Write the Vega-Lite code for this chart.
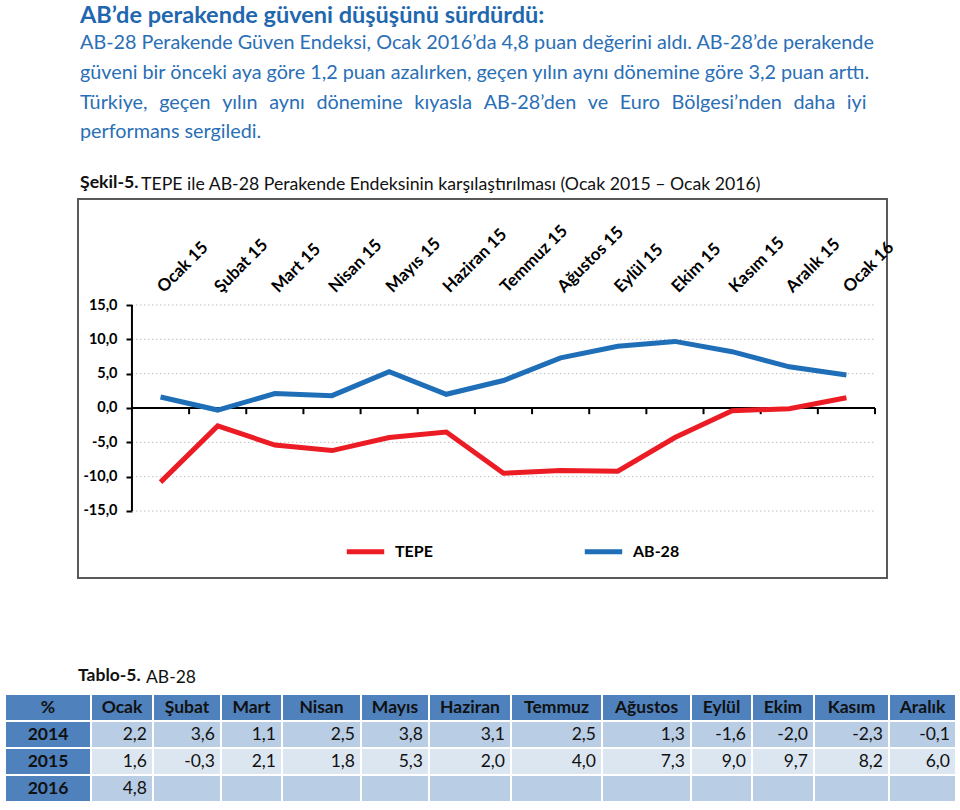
{
  "$schema": "https://vega.github.io/schema/vega-lite/v6.json",
  "background": "white",
  "padding": {"left": 4, "top": 4, "right": 0, "bottom": 0},
  "config": {
    "font": "Lato",
    "view": {"stroke": null},
    "locale": {"number": {"decimal": ",", "thousands": ".", "grouping": [3], "currency": ["", ""], "minus": "-"}},
    "text": {"fontSize": 17.5, "color": "#111111", "font": "Lato"},
    "rect": {"stroke": "white", "strokeWidth": 2}
  },
  "resolve": {"scale": {"color": "independent"}},
  "title": {
    "text": "AB’de perakende güveni düşüşünü sürdürdü:",
    "subtitle": [
      "AB-28 Perakende Güven Endeksi, Ocak 2016’da 4,8 puan değerini aldı. AB-28’de perakende",
      "güveni bir önceki aya göre 1,2 puan azalırken, geçen yılın aynı dönemine göre 3,2 puan arttı.",
      "Türkiye, \u2004geçen \u2004yılın \u2004aynı \u2004dönemine \u2004kıyasla \u2004AB-28’den \u2004ve \u2004Euro \u2004Bölgesi’nden \u2004daha \u2004iyi",
      "performans sergiledi."
    ],
    "anchor": "start",
    "dx": 76,
    "fontSize": 23.5,
    "fontWeight": "bold",
    "color": "#1F67AE",
    "subtitleColor": "#2A6FB6",
    "subtitleFontSize": 19.8,
    "subtitleLineHeight": 29.9,
    "subtitlePadding": 5,
    "offset": 31
  },
  "datasets": {
    "grafik": [
      {"ay": "Ocak 15", "seri": "TEPE", "deger": -10.8},
      {"ay": "Şubat 15", "seri": "TEPE", "deger": -2.6},
      {"ay": "Mart 15", "seri": "TEPE", "deger": -5.4},
      {"ay": "Nisan 15", "seri": "TEPE", "deger": -6.2},
      {"ay": "Mayıs 15", "seri": "TEPE", "deger": -4.3},
      {"ay": "Haziran 15", "seri": "TEPE", "deger": -3.5},
      {"ay": "Temmuz 15", "seri": "TEPE", "deger": -9.5},
      {"ay": "Ağustos 15", "seri": "TEPE", "deger": -9.1},
      {"ay": "Eylül 15", "seri": "TEPE", "deger": -9.2},
      {"ay": "Ekim 15", "seri": "TEPE", "deger": -4.3},
      {"ay": "Kasım 15", "seri": "TEPE", "deger": -0.4},
      {"ay": "Aralık 15", "seri": "TEPE", "deger": -0.1},
      {"ay": "Ocak 16", "seri": "TEPE", "deger": 1.5},
      {"ay": "Ocak 15", "seri": "AB-28", "deger": 1.6},
      {"ay": "Şubat 15", "seri": "AB-28", "deger": -0.3},
      {"ay": "Mart 15", "seri": "AB-28", "deger": 2.1},
      {"ay": "Nisan 15", "seri": "AB-28", "deger": 1.8},
      {"ay": "Mayıs 15", "seri": "AB-28", "deger": 5.3},
      {"ay": "Haziran 15", "seri": "AB-28", "deger": 2.0},
      {"ay": "Temmuz 15", "seri": "AB-28", "deger": 4.0},
      {"ay": "Ağustos 15", "seri": "AB-28", "deger": 7.3},
      {"ay": "Eylül 15", "seri": "AB-28", "deger": 9.0},
      {"ay": "Ekim 15", "seri": "AB-28", "deger": 9.7},
      {"ay": "Kasım 15", "seri": "AB-28", "deger": 8.2},
      {"ay": "Aralık 15", "seri": "AB-28", "deger": 6.0},
      {"ay": "Ocak 16", "seri": "AB-28", "deger": 4.8}
    ],
    "izgara": [{"g": -15}, {"g": -10}, {"g": -5}, {"g": 5}, {"g": 10}, {"g": 15}],
    "tablo": [
      {"yil": "2014", "ay": "Ocak", "deger": 2.2},
      {"yil": "2014", "ay": "Şubat", "deger": 3.6},
      {"yil": "2014", "ay": "Mart", "deger": 1.1},
      {"yil": "2014", "ay": "Nisan", "deger": 2.5},
      {"yil": "2014", "ay": "Mayıs", "deger": 3.8},
      {"yil": "2014", "ay": "Haziran", "deger": 3.1},
      {"yil": "2014", "ay": "Temmuz", "deger": 2.5},
      {"yil": "2014", "ay": "Ağustos", "deger": 1.3},
      {"yil": "2014", "ay": "Eylül", "deger": -1.6},
      {"yil": "2014", "ay": "Ekim", "deger": -2.0},
      {"yil": "2014", "ay": "Kasım", "deger": -2.3},
      {"yil": "2014", "ay": "Aralık", "deger": -0.1},
      {"yil": "2015", "ay": "Ocak", "deger": 1.6},
      {"yil": "2015", "ay": "Şubat", "deger": -0.3},
      {"yil": "2015", "ay": "Mart", "deger": 2.1},
      {"yil": "2015", "ay": "Nisan", "deger": 1.8},
      {"yil": "2015", "ay": "Mayıs", "deger": 5.3},
      {"yil": "2015", "ay": "Haziran", "deger": 2.0},
      {"yil": "2015", "ay": "Temmuz", "deger": 4.0},
      {"yil": "2015", "ay": "Ağustos", "deger": 7.3},
      {"yil": "2015", "ay": "Eylül", "deger": 9.0},
      {"yil": "2015", "ay": "Ekim", "deger": 9.7},
      {"yil": "2015", "ay": "Kasım", "deger": 8.2},
      {"yil": "2015", "ay": "Aralık", "deger": 6.0},
      {"yil": "2016", "ay": "Ocak", "deger": 4.8},
      {"yil": "2016", "ay": "Şubat", "deger": null},
      {"yil": "2016", "ay": "Mart", "deger": null},
      {"yil": "2016", "ay": "Nisan", "deger": null},
      {"yil": "2016", "ay": "Mayıs", "deger": null},
      {"yil": "2016", "ay": "Haziran", "deger": null},
      {"yil": "2016", "ay": "Temmuz", "deger": null},
      {"yil": "2016", "ay": "Ağustos", "deger": null},
      {"yil": "2016", "ay": "Eylül", "deger": null},
      {"yil": "2016", "ay": "Ekim", "deger": null},
      {"yil": "2016", "ay": "Kasım", "deger": null},
      {"yil": "2016", "ay": "Aralık", "deger": null}
    ]
  },
  "spacing": 87,
  "vconcat": [
    {
      "title": {"text": "TEPE ile AB-28 Perakende Endeksinin karşılaştırılması (Ocak 2015 – Ocak 2016)", "anchor": "start", "dx": 136, "dy": 20, "offset": 0, "fontSize": 17.7, "fontWeight": "normal", "color": "#111111"},
      "spacing": 10,
      "hconcat": [
        {
          "width": 62,
          "height": 1,
          "data": {"values": []},
          "mark": {"type": "point", "opacity": 0}
        },
        {
          "width": 809,
          "height": 379,
          "title": {"text": "Şekil-5.", "anchor": "start", "dx": 2, "offset": 7, "fontSize": 17.7, "fontWeight": "bold", "color": "#111111"},
          "view": {"stroke": "#595959", "strokeWidth": 2},
          "layer": [
            {
              "data": {"name": "izgara"},
              "mark": {"type": "rule", "color": "#BFBFBF", "strokeDash": [1.5, 2.5], "strokeWidth": 1},
              "encoding": {
                "y": {"field": "g", "type": "quantitative",
                  "scale": {"domain": [-24.76, 30.44], "nice": false, "zero": false},
                  "axis": {"values": [-15, -10, -5, 0, 5, 10, 15], "format": ".1f", "offset": -54, "domain": false, "grid": false, "ticks": true, "tickSize": 6, "tickColor": "black", "tickWidth": 2, "labelFontSize": 14.5, "labelFontWeight": "bold", "labelColor": "black", "labelPadding": 9, "title": null}},
                "x": {"datum": "Ocak 15", "bandPosition": 0,
                  "scale": {"type": "band", "domain": ["Ocak 15", "Şubat 15", "Mart 15", "Nisan 15", "Mayıs 15", "Haziran 15", "Temmuz 15", "Ağustos 15", "Eylül 15", "Ekim 15", "Kasım 15", "Aralık 15", "Ocak 16"], "paddingInner": 0, "paddingOuter": 0.577, "align": 0.818},
                  "axis": null},
                "x2": {"datum": "Ocak 16", "bandPosition": 1}
              }
            },
            {
              "data": {"values": [{}]},
              "mark": {"type": "rule", "color": "black", "strokeWidth": 2},
              "encoding": {
                "x": {"datum": "Ocak 15", "bandPosition": 0},
                "y": {"datum": -15},
                "y2": {"datum": 15}
              }
            },
            {
              "data": {"values": [{}]},
              "mark": {"type": "rule", "color": "black", "strokeWidth": 2},
              "encoding": {
                "x": {"datum": "Ocak 15", "bandPosition": 0},
                "x2": {"datum": "Ocak 16", "bandPosition": 1},
                "y": {"datum": 0}
              }
            },
            {
              "data": {"name": "grafik"},
              "transform": [{"filter": "datum.seri === 'TEPE'"}],
              "mark": {"type": "rule", "color": "black", "strokeWidth": 2},
              "encoding": {
                "x": {"field": "ay", "type": "nominal", "bandPosition": 1},
                "y": {"datum": 0},
                "y2": {"datum": -0.9}
              }
            },
            {
              "data": {"name": "grafik"},
              "mark": {"type": "line", "strokeWidth": 5},
              "encoding": {
                "x": {"field": "ay", "type": "nominal", "sort": ["Ocak 15", "Şubat 15", "Mart 15", "Nisan 15", "Mayıs 15", "Haziran 15", "Temmuz 15", "Ağustos 15", "Eylül 15", "Ekim 15", "Kasım 15", "Aralık 15", "Ocak 16"]},
                "y": {"field": "deger", "type": "quantitative"},
                "color": {"field": "seri", "type": "nominal",
                  "scale": {"domain": ["TEPE", "AB-28"], "range": ["#EC1C24", "#1E6EB8"]},
                  "legend": {"orient": "none", "legendX": 339, "legendY": 331, "direction": "horizontal", "title": null, "symbolType": "stroke", "symbolSize": 1400, "symbolStrokeWidth": 5, "labelFontSize": 16, "labelFontWeight": "bold", "labelColor": "black", "columnPadding": 141, "labelOffset": 8}}
              }
            },
            {
              "data": {"name": "grafik"},
              "transform": [{"filter": "datum.seri === 'TEPE'"}],
              "mark": {"type": "text", "angle": -45, "align": "left", "baseline": "middle", "fontSize": 17, "fontWeight": "bold", "color": "black"},
              "encoding": {
                "x": {"field": "ay", "type": "nominal"},
                "y": {"datum": 17.2},
                "text": {"field": "ay"}
              }
            }
          ]
        }
      ]
    },
    {
      "title": {"text": "AB-28", "anchor": "start", "dx": 142, "dy": 20, "offset": 0, "fontSize": 17.5, "fontWeight": "normal", "color": "#111111"},
      "vconcat": [
        {
          "title": {"text": "Tablo-5.", "anchor": "start", "dx": 74, "offset": 9, "fontSize": 17.5, "fontWeight": "bold", "color": "#111111"},
          "data": {"name": "tablo"},
          "spacing": 0,
          "bounds": "flush",
          "hconcat": [
            {"width": 86, "height": 108, "transform": [{"filter": "datum.ay === 'Ocak'"}],
             "encoding": {"x": {"field": "ay", "type": "nominal", "scale": {"paddingInner": 0, "paddingOuter": 0}, "axis": null}, "y": {"field": "yil", "type": "nominal", "scale": {"domain": ["%", "2014", "2015", "2016"], "paddingInner": 0, "paddingOuter": 0}, "axis": null}},
             "layer": [
               {"mark": {"type": "rect", "color": "#4F81BD"}},
               {"mark": {"type": "text", "fontWeight": "bold"}, "encoding": {"text": {"field": "yil"}}},
               {"transform": [{"filter": "datum.yil === '2014'"}], "mark": {"type": "rect", "color": "#4F81BD"}, "encoding": {"y": {"datum": "%"}}},
               {"transform": [{"filter": "datum.yil === '2014'"}], "mark": {"type": "text", "fontWeight": "bold", "text": "%"}, "encoding": {"y": {"datum": "%"}}}
             ]},
            {"width": 62, "height": 108, "transform": [{"filter": "datum.ay === 'Ocak'"}],
             "encoding": {"x": {"field": "ay", "type": "nominal", "scale": {"paddingInner": 0, "paddingOuter": 0}, "axis": null}, "y": {"field": "yil", "type": "nominal", "scale": {"domain": ["%", "2014", "2015", "2016"], "paddingInner": 0, "paddingOuter": 0}, "axis": null}},
             "layer": [
               {"mark": "rect", "encoding": {"color": {"field": "yil", "type": "nominal", "scale": {"domain": ["2014", "2015", "2016"], "range": ["#B9CDE5", "#DCE6F1", "#B9CDE5"]}, "legend": null}}},
               {"transform": [{"filter": "isValid(datum.deger)"}], "mark": {"type": "text", "align": "right", "dx": -6}, "encoding": {"x": {"field": "ay", "type": "nominal", "bandPosition": 1}, "text": {"field": "deger", "type": "quantitative", "format": ".1f"}}},
               {"transform": [{"filter": "datum.yil === '2014'"}], "mark": {"type": "rect", "color": "#4F81BD"}, "encoding": {"y": {"datum": "%"}}},
               {"transform": [{"filter": "datum.yil === '2014'"}], "mark": {"type": "text", "fontWeight": "bold"}, "encoding": {"y": {"datum": "%"}, "text": {"field": "ay"}}}
             ]},
            {"width": 68, "height": 108, "transform": [{"filter": "datum.ay === 'Şubat'"}],
             "encoding": {"x": {"field": "ay", "type": "nominal", "scale": {"paddingInner": 0, "paddingOuter": 0}, "axis": null}, "y": {"field": "yil", "type": "nominal", "scale": {"domain": ["%", "2014", "2015", "2016"], "paddingInner": 0, "paddingOuter": 0}, "axis": null}},
             "layer": [
               {"mark": "rect", "encoding": {"color": {"field": "yil", "type": "nominal", "scale": {"domain": ["2014", "2015", "2016"], "range": ["#B9CDE5", "#DCE6F1", "#B9CDE5"]}, "legend": null}}},
               {"transform": [{"filter": "isValid(datum.deger)"}], "mark": {"type": "text", "align": "right", "dx": -6}, "encoding": {"x": {"field": "ay", "type": "nominal", "bandPosition": 1}, "text": {"field": "deger", "type": "quantitative", "format": ".1f"}}},
               {"transform": [{"filter": "datum.yil === '2014'"}], "mark": {"type": "rect", "color": "#4F81BD"}, "encoding": {"y": {"datum": "%"}}},
               {"transform": [{"filter": "datum.yil === '2014'"}], "mark": {"type": "text", "fontWeight": "bold"}, "encoding": {"y": {"datum": "%"}, "text": {"field": "ay"}}}
             ]},
            {"width": 61, "height": 108, "transform": [{"filter": "datum.ay === 'Mart'"}],
             "encoding": {"x": {"field": "ay", "type": "nominal", "scale": {"paddingInner": 0, "paddingOuter": 0}, "axis": null}, "y": {"field": "yil", "type": "nominal", "scale": {"domain": ["%", "2014", "2015", "2016"], "paddingInner": 0, "paddingOuter": 0}, "axis": null}},
             "layer": [
               {"mark": "rect", "encoding": {"color": {"field": "yil", "type": "nominal", "scale": {"domain": ["2014", "2015", "2016"], "range": ["#B9CDE5", "#DCE6F1", "#B9CDE5"]}, "legend": null}}},
               {"transform": [{"filter": "isValid(datum.deger)"}], "mark": {"type": "text", "align": "right", "dx": -6}, "encoding": {"x": {"field": "ay", "type": "nominal", "bandPosition": 1}, "text": {"field": "deger", "type": "quantitative", "format": ".1f"}}},
               {"transform": [{"filter": "datum.yil === '2014'"}], "mark": {"type": "rect", "color": "#4F81BD"}, "encoding": {"y": {"datum": "%"}}},
               {"transform": [{"filter": "datum.yil === '2014'"}], "mark": {"type": "text", "fontWeight": "bold"}, "encoding": {"y": {"datum": "%"}, "text": {"field": "ay"}}}
             ]},
            {"width": 79, "height": 108, "transform": [{"filter": "datum.ay === 'Nisan'"}],
             "encoding": {"x": {"field": "ay", "type": "nominal", "scale": {"paddingInner": 0, "paddingOuter": 0}, "axis": null}, "y": {"field": "yil", "type": "nominal", "scale": {"domain": ["%", "2014", "2015", "2016"], "paddingInner": 0, "paddingOuter": 0}, "axis": null}},
             "layer": [
               {"mark": "rect", "encoding": {"color": {"field": "yil", "type": "nominal", "scale": {"domain": ["2014", "2015", "2016"], "range": ["#B9CDE5", "#DCE6F1", "#B9CDE5"]}, "legend": null}}},
               {"transform": [{"filter": "isValid(datum.deger)"}], "mark": {"type": "text", "align": "right", "dx": -6}, "encoding": {"x": {"field": "ay", "type": "nominal", "bandPosition": 1}, "text": {"field": "deger", "type": "quantitative", "format": ".1f"}}},
               {"transform": [{"filter": "datum.yil === '2014'"}], "mark": {"type": "rect", "color": "#4F81BD"}, "encoding": {"y": {"datum": "%"}}},
               {"transform": [{"filter": "datum.yil === '2014'"}], "mark": {"type": "text", "fontWeight": "bold"}, "encoding": {"y": {"datum": "%"}, "text": {"field": "ay"}}}
             ]},
            {"width": 68, "height": 108, "transform": [{"filter": "datum.ay === 'Mayıs'"}],
             "encoding": {"x": {"field": "ay", "type": "nominal", "scale": {"paddingInner": 0, "paddingOuter": 0}, "axis": null}, "y": {"field": "yil", "type": "nominal", "scale": {"domain": ["%", "2014", "2015", "2016"], "paddingInner": 0, "paddingOuter": 0}, "axis": null}},
             "layer": [
               {"mark": "rect", "encoding": {"color": {"field": "yil", "type": "nominal", "scale": {"domain": ["2014", "2015", "2016"], "range": ["#B9CDE5", "#DCE6F1", "#B9CDE5"]}, "legend": null}}},
               {"transform": [{"filter": "isValid(datum.deger)"}], "mark": {"type": "text", "align": "right", "dx": -6}, "encoding": {"x": {"field": "ay", "type": "nominal", "bandPosition": 1}, "text": {"field": "deger", "type": "quantitative", "format": ".1f"}}},
               {"transform": [{"filter": "datum.yil === '2014'"}], "mark": {"type": "rect", "color": "#4F81BD"}, "encoding": {"y": {"datum": "%"}}},
               {"transform": [{"filter": "datum.yil === '2014'"}], "mark": {"type": "text", "fontWeight": "bold"}, "encoding": {"y": {"datum": "%"}, "text": {"field": "ay"}}}
             ]},
            {"width": 82, "height": 108, "transform": [{"filter": "datum.ay === 'Haziran'"}],
             "encoding": {"x": {"field": "ay", "type": "nominal", "scale": {"paddingInner": 0, "paddingOuter": 0}, "axis": null}, "y": {"field": "yil", "type": "nominal", "scale": {"domain": ["%", "2014", "2015", "2016"], "paddingInner": 0, "paddingOuter": 0}, "axis": null}},
             "layer": [
               {"mark": "rect", "encoding": {"color": {"field": "yil", "type": "nominal", "scale": {"domain": ["2014", "2015", "2016"], "range": ["#B9CDE5", "#DCE6F1", "#B9CDE5"]}, "legend": null}}},
               {"transform": [{"filter": "isValid(datum.deger)"}], "mark": {"type": "text", "align": "right", "dx": -6}, "encoding": {"x": {"field": "ay", "type": "nominal", "bandPosition": 1}, "text": {"field": "deger", "type": "quantitative", "format": ".1f"}}},
               {"transform": [{"filter": "datum.yil === '2014'"}], "mark": {"type": "rect", "color": "#4F81BD"}, "encoding": {"y": {"datum": "%"}}},
               {"transform": [{"filter": "datum.yil === '2014'"}], "mark": {"type": "text", "fontWeight": "bold"}, "encoding": {"y": {"datum": "%"}, "text": {"field": "ay"}}}
             ]},
            {"width": 91, "height": 108, "transform": [{"filter": "datum.ay === 'Temmuz'"}],
             "encoding": {"x": {"field": "ay", "type": "nominal", "scale": {"paddingInner": 0, "paddingOuter": 0}, "axis": null}, "y": {"field": "yil", "type": "nominal", "scale": {"domain": ["%", "2014", "2015", "2016"], "paddingInner": 0, "paddingOuter": 0}, "axis": null}},
             "layer": [
               {"mark": "rect", "encoding": {"color": {"field": "yil", "type": "nominal", "scale": {"domain": ["2014", "2015", "2016"], "range": ["#B9CDE5", "#DCE6F1", "#B9CDE5"]}, "legend": null}}},
               {"transform": [{"filter": "isValid(datum.deger)"}], "mark": {"type": "text", "align": "right", "dx": -6}, "encoding": {"x": {"field": "ay", "type": "nominal", "bandPosition": 1}, "text": {"field": "deger", "type": "quantitative", "format": ".1f"}}},
               {"transform": [{"filter": "datum.yil === '2014'"}], "mark": {"type": "rect", "color": "#4F81BD"}, "encoding": {"y": {"datum": "%"}}},
               {"transform": [{"filter": "datum.yil === '2014'"}], "mark": {"type": "text", "fontWeight": "bold"}, "encoding": {"y": {"datum": "%"}, "text": {"field": "ay"}}}
             ]},
            {"width": 89, "height": 108, "transform": [{"filter": "datum.ay === 'Ağustos'"}],
             "encoding": {"x": {"field": "ay", "type": "nominal", "scale": {"paddingInner": 0, "paddingOuter": 0}, "axis": null}, "y": {"field": "yil", "type": "nominal", "scale": {"domain": ["%", "2014", "2015", "2016"], "paddingInner": 0, "paddingOuter": 0}, "axis": null}},
             "layer": [
               {"mark": "rect", "encoding": {"color": {"field": "yil", "type": "nominal", "scale": {"domain": ["2014", "2015", "2016"], "range": ["#B9CDE5", "#DCE6F1", "#B9CDE5"]}, "legend": null}}},
               {"transform": [{"filter": "isValid(datum.deger)"}], "mark": {"type": "text", "align": "right", "dx": -6}, "encoding": {"x": {"field": "ay", "type": "nominal", "bandPosition": 1}, "text": {"field": "deger", "type": "quantitative", "format": ".1f"}}},
               {"transform": [{"filter": "datum.yil === '2014'"}], "mark": {"type": "rect", "color": "#4F81BD"}, "encoding": {"y": {"datum": "%"}}},
               {"transform": [{"filter": "datum.yil === '2014'"}], "mark": {"type": "text", "fontWeight": "bold"}, "encoding": {"y": {"datum": "%"}, "text": {"field": "ay"}}}
             ]},
            {"width": 61, "height": 108, "transform": [{"filter": "datum.ay === 'Eylül'"}],
             "encoding": {"x": {"field": "ay", "type": "nominal", "scale": {"paddingInner": 0, "paddingOuter": 0}, "axis": null}, "y": {"field": "yil", "type": "nominal", "scale": {"domain": ["%", "2014", "2015", "2016"], "paddingInner": 0, "paddingOuter": 0}, "axis": null}},
             "layer": [
               {"mark": "rect", "encoding": {"color": {"field": "yil", "type": "nominal", "scale": {"domain": ["2014", "2015", "2016"], "range": ["#B9CDE5", "#DCE6F1", "#B9CDE5"]}, "legend": null}}},
               {"transform": [{"filter": "isValid(datum.deger)"}], "mark": {"type": "text", "align": "right", "dx": -6}, "encoding": {"x": {"field": "ay", "type": "nominal", "bandPosition": 1}, "text": {"field": "deger", "type": "quantitative", "format": ".1f"}}},
               {"transform": [{"filter": "datum.yil === '2014'"}], "mark": {"type": "rect", "color": "#4F81BD"}, "encoding": {"y": {"datum": "%"}}},
               {"transform": [{"filter": "datum.yil === '2014'"}], "mark": {"type": "text", "fontWeight": "bold"}, "encoding": {"y": {"datum": "%"}, "text": {"field": "ay"}}}
             ]},
            {"width": 62, "height": 108, "transform": [{"filter": "datum.ay === 'Ekim'"}],
             "encoding": {"x": {"field": "ay", "type": "nominal", "scale": {"paddingInner": 0, "paddingOuter": 0}, "axis": null}, "y": {"field": "yil", "type": "nominal", "scale": {"domain": ["%", "2014", "2015", "2016"], "paddingInner": 0, "paddingOuter": 0}, "axis": null}},
             "layer": [
               {"mark": "rect", "encoding": {"color": {"field": "yil", "type": "nominal", "scale": {"domain": ["2014", "2015", "2016"], "range": ["#B9CDE5", "#DCE6F1", "#B9CDE5"]}, "legend": null}}},
               {"transform": [{"filter": "isValid(datum.deger)"}], "mark": {"type": "text", "align": "right", "dx": -6}, "encoding": {"x": {"field": "ay", "type": "nominal", "bandPosition": 1}, "text": {"field": "deger", "type": "quantitative", "format": ".1f"}}},
               {"transform": [{"filter": "datum.yil === '2014'"}], "mark": {"type": "rect", "color": "#4F81BD"}, "encoding": {"y": {"datum": "%"}}},
               {"transform": [{"filter": "datum.yil === '2014'"}], "mark": {"type": "text", "fontWeight": "bold"}, "encoding": {"y": {"datum": "%"}, "text": {"field": "ay"}}}
             ]},
            {"width": 75, "height": 108, "transform": [{"filter": "datum.ay === 'Kasım'"}],
             "encoding": {"x": {"field": "ay", "type": "nominal", "scale": {"paddingInner": 0, "paddingOuter": 0}, "axis": null}, "y": {"field": "yil", "type": "nominal", "scale": {"domain": ["%", "2014", "2015", "2016"], "paddingInner": 0, "paddingOuter": 0}, "axis": null}},
             "layer": [
               {"mark": "rect", "encoding": {"color": {"field": "yil", "type": "nominal", "scale": {"domain": ["2014", "2015", "2016"], "range": ["#B9CDE5", "#DCE6F1", "#B9CDE5"]}, "legend": null}}},
               {"transform": [{"filter": "isValid(datum.deger)"}], "mark": {"type": "text", "align": "right", "dx": -6}, "encoding": {"x": {"field": "ay", "type": "nominal", "bandPosition": 1}, "text": {"field": "deger", "type": "quantitative", "format": ".1f"}}},
               {"transform": [{"filter": "datum.yil === '2014'"}], "mark": {"type": "rect", "color": "#4F81BD"}, "encoding": {"y": {"datum": "%"}}},
               {"transform": [{"filter": "datum.yil === '2014'"}], "mark": {"type": "text", "fontWeight": "bold"}, "encoding": {"y": {"datum": "%"}, "text": {"field": "ay"}}}
             ]},
            {"width": 67, "height": 108, "transform": [{"filter": "datum.ay === 'Aralık'"}],
             "encoding": {"x": {"field": "ay", "type": "nominal", "scale": {"paddingInner": 0, "paddingOuter": 0}, "axis": null}, "y": {"field": "yil", "type": "nominal", "scale": {"domain": ["%", "2014", "2015", "2016"], "paddingInner": 0, "paddingOuter": 0}, "axis": null}},
             "layer": [
               {"mark": "rect", "encoding": {"color": {"field": "yil", "type": "nominal", "scale": {"domain": ["2014", "2015", "2016"], "range": ["#B9CDE5", "#DCE6F1", "#B9CDE5"]}, "legend": null}}},
               {"transform": [{"filter": "isValid(datum.deger)"}], "mark": {"type": "text", "align": "right", "dx": -6}, "encoding": {"x": {"field": "ay", "type": "nominal", "bandPosition": 1}, "text": {"field": "deger", "type": "quantitative", "format": ".1f"}}},
               {"transform": [{"filter": "datum.yil === '2014'"}], "mark": {"type": "rect", "color": "#4F81BD"}, "encoding": {"y": {"datum": "%"}}},
               {"transform": [{"filter": "datum.yil === '2014'"}], "mark": {"type": "text", "fontWeight": "bold"}, "encoding": {"y": {"datum": "%"}, "text": {"field": "ay"}}}
             ]}
          ]
        }
      ]
    }
  ]
}
